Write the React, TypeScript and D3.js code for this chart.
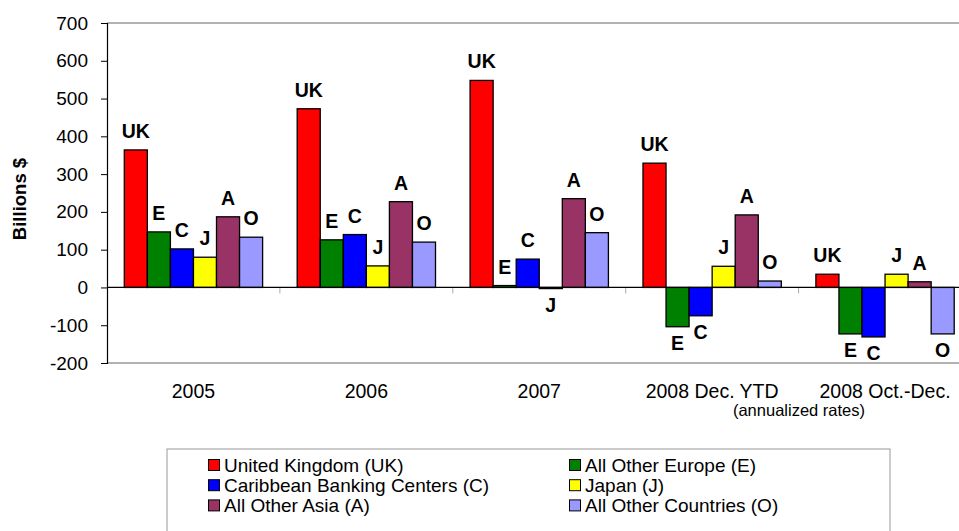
import * as React from "react";
import * as d3 from "d3";

const categories = ["2005", "2006", "2007", "2008 Dec. YTD", "2008 Oct.-Dec."];
const seriesNames = [
  "United Kingdom (UK)",
  "All Other Europe (E)",
  "Caribbean Banking Centers (C)",
  "Japan (J)",
  "All Other Asia (A)",
  "All Other Countries (O)",
];
const seriesShort = ["UK", "E", "C", "J", "A", "O"];
const seriesColors = ["#ff0000", "#008000", "#0000ff", "#ffff00", "#993366", "#9999ff"];

// values per series, one entry per category
const ukValues = [364, 473, 548, 329, 35];
const europeValues = [147, 126, 5, -104, -123];
const caribbeanValues = [102, 140, 75, -75, -131];
const japanValues = [80, 57, -3, 56, 35];
const asiaValues = [187, 227, 235, 192, 15];
const otherValues = [133, 120, 145, 17, -123];

const yTicks = [-200, -100, 0, 100, 200, 300, 400, 500, 600, 700];

function drawChart(svgRef: React.RefObject<SVGSVGElement>) {
  const allSeries = [ukValues, europeValues, caribbeanValues, japanValues, asiaValues, otherValues];
  const width = 959;
  const height = 531;
  const margin = { top: 23, left: 107, bottom: 363, right: 971.5 };
  const font = "Arial, 'Liberation Sans', sans-serif";

  const svg = d3.select(svgRef.current);
  svg.selectAll("*").remove();
  svg.attr("width", width).attr("height", height).style("display", "block");

  const x0 = d3
    .scaleBand()
    .domain(categories)
    .range([margin.left, margin.right])
    .paddingInner(0.2)
    .paddingOuter(0.1);

  const x1 = d3
    .scaleBand()
    .domain(seriesShort)
    .range([0, x0.bandwidth()])
    .padding(0);

  const y = d3.scaleLinear().domain([-200, 700]).range([margin.bottom, margin.top]);

  // frame: gray top & bottom lines
  svg
    .append("line")
    .attr("x1", margin.left).attr("x2", width)
    .attr("y1", margin.top).attr("y2", margin.top)
    .attr("stroke", "#999").attr("stroke-width", 1.5);
  svg
    .append("line")
    .attr("x1", margin.left).attr("x2", width)
    .attr("y1", margin.bottom).attr("y2", margin.bottom)
    .attr("stroke", "#999").attr("stroke-width", 1.5);

  // category ticks below zero line
  const step = x0.step();
  const bounds = d3.range(1, categories.length).map((i) => margin.left + i * step);
  svg
    .append("g")
    .selectAll("line")
    .data(bounds)
    .enter()
    .append("line")
    .attr("x1", (d) => d).attr("x2", (d) => d)
    .attr("y1", y(0)).attr("y2", y(0) + 6)
    .attr("stroke", "#aaa").attr("stroke-width", 1);

  // bars
  const groups = svg
    .append("g")
    .selectAll("g")
    .data(categories)
    .enter()
    .append("g")
    .attr("transform", (d) => `translate(${x0(d)},0)`);

  const barData = (ci: number) =>
    seriesShort.map((s, si) => ({ s, si, v: allSeries[si][ci] }));

  groups
    .selectAll("rect")
    .data((_, ci) => barData(ci))
    .enter()
    .append("rect")
    .attr("x", (d) => x1(d.s)!)
    .attr("width", x1.bandwidth())
    .attr("y", (d) => y(Math.max(0, d.v)))
    .attr("height", (d) => Math.max(1, Math.abs(y(d.v) - y(0))))
    .attr("fill", (d) => seriesColors[d.si])
    .attr("stroke", "#000")
    .attr("stroke-width", 1.3);

  groups
    .selectAll("text")
    .data((_, ci) => barData(ci))
    .enter()
    .append("text")
    .attr("x", (d) => x1(d.s)! + x1.bandwidth() / 2)
    .attr("y", (d) => (d.v >= 0 ? y(d.v) - 12 : y(d.v) + 23))
    .attr("text-anchor", "middle")
    .attr("font-family", font)
    .attr("font-weight", "bold")
    .attr("font-size", 19.5)
    .text((d) => d.s);

  // zero line
  svg
    .append("line")
    .attr("x1", margin.left).attr("x2", width)
    .attr("y1", y(0)).attr("y2", y(0))
    .attr("stroke", "#000").attr("stroke-width", 1.2);

  // y axis
  const yAxis = svg
    .append("g")
    .attr("transform", `translate(${margin.left},0)`)
    .call(
      d3
        .axisLeft(y)
        .tickValues(yTicks)
        .tickSize(6)
        .tickPadding(13)
        .tickFormat((d) => String(d))
    );
  yAxis.select(".domain").attr("stroke", "#000").attr("stroke-width", 1.2);
  yAxis.selectAll(".tick line").attr("stroke", "#000");
  yAxis.selectAll(".tick text").attr("font-family", font).attr("font-size", 19).attr("fill", "#000");

  svg
    .append("text")
    .attr("transform", `translate(26,199) rotate(-90)`)
    .attr("text-anchor", "middle")
    .attr("font-family", font)
    .attr("font-weight", "bold")
    .attr("font-size", 18.5)
    .text("Billions $");

  // category labels
  svg
    .append("g")
    .selectAll("text")
    .data(categories)
    .enter()
    .append("text")
    .attr("x", (d) => x0(d)! + x0.bandwidth() / 2)
    .attr("y", 398)
    .attr("text-anchor", "middle")
    .attr("font-family", font)
    .attr("font-size", 19.5)
    .text((d) => d);

  svg
    .append("text")
    .attr("x", 799)
    .attr("y", 416)
    .attr("text-anchor", "middle")
    .attr("font-family", font)
    .attr("font-size", 16.5)
    .text("(annualized rates)");

  // legend
  svg
    .append("rect")
    .attr("x", 167).attr("y", 449)
    .attr("width", 723).attr("height", 100)
    .attr("fill", "#fff").attr("stroke", "#999").attr("stroke-width", 1);

  const legend = svg
    .append("g")
    .selectAll("g")
    .data(seriesNames)
    .enter()
    .append("g")
    .attr("transform", (_, i) => `translate(${i % 2 === 0 ? 208 : 569},${472 + Math.floor(i / 2) * 20.2})`);

  legend
    .append("rect")
    .attr("x", 0.5).attr("y", -12.5)
    .attr("width", 11).attr("height", 11)
    .attr("fill", (_, i) => seriesColors[i])
    .attr("stroke", "#000").attr("stroke-width", 1);

  legend
    .append("text")
    .attr("x", 16)
    .attr("y", 0)
    .attr("font-family", font)
    .attr("font-size", 19)
    .text((d) => d);
}

const App: React.FunctionComponent = () => {
  const svg = React.useRef<SVGSVGElement>(null);
  React.useEffect(() => {
    document.body.style.margin = "0";
    drawChart(svg);
  }, [svg]);

  return (
    <div id="chart">
      <svg ref={svg} />
    </div>
  );
};

export default App;
